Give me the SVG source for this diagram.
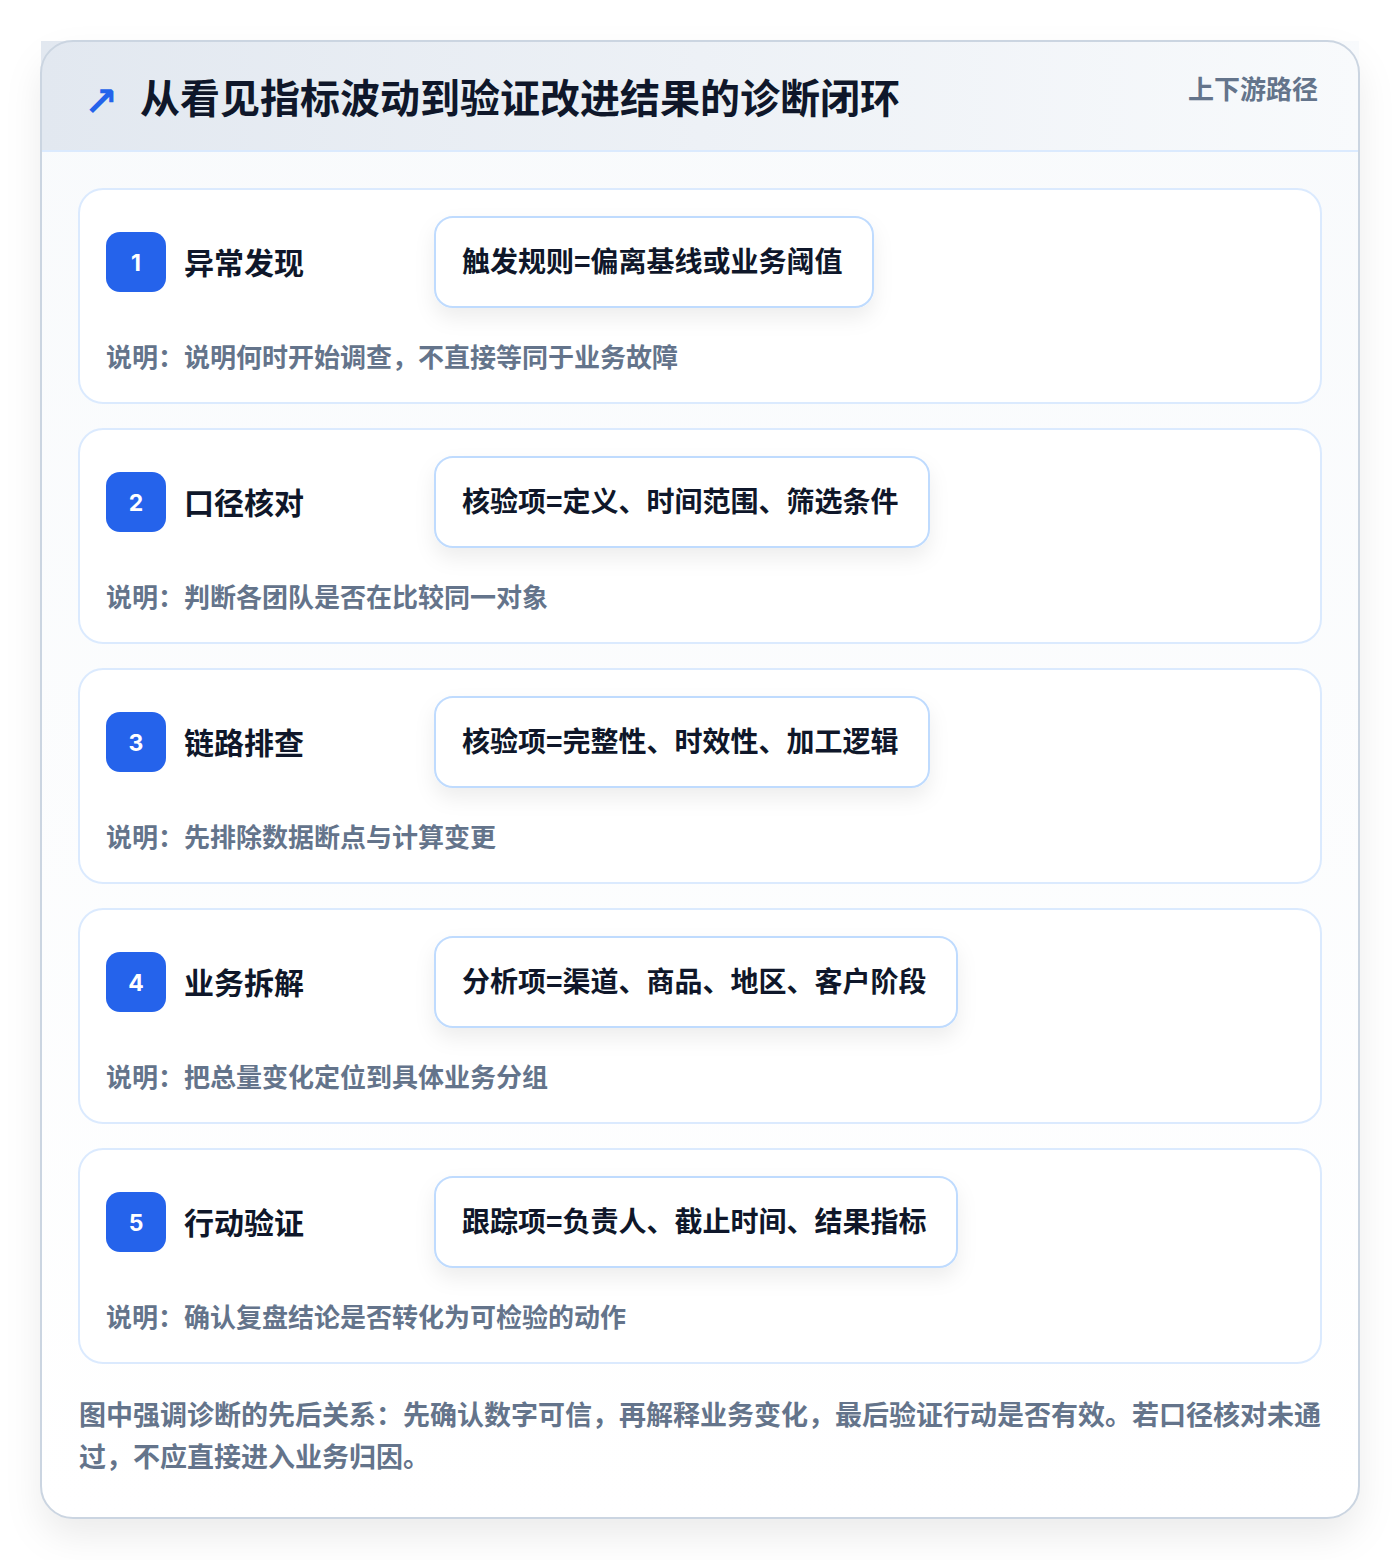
<svg xmlns="http://www.w3.org/2000/svg" width="1400" height="1560" viewBox="0 0 1400 1560">
<defs>
<linearGradient id="hdr" x1="0" y1="0" x2="1" y2="0">
<stop offset="0" stop-color="#e2e8f0"/>
<stop offset="1" stop-color="#f8fafc"/>
</linearGradient>
<linearGradient id="body" x1="0" y1="0" x2="0" y2="1">
<stop offset="0" stop-color="#f8fafc"/>
<stop offset="1" stop-color="#ffffff"/>
</linearGradient>
<filter id="outerShadow" x="-10%" y="-10%" width="120%" height="120%">
<feDropShadow dx="0" dy="18" stdDeviation="18" flood-color="#0f172a" flood-opacity="0.08"/>
</filter>
<filter id="pillShadow" x="-20%" y="-40%" width="140%" height="200%">
<feDropShadow dx="0" dy="10" stdDeviation="10" flood-color="#0f172a" flood-opacity="0.07"/>
</filter>
</defs>
<style>
text{font-family:"Noto Sans CJK SC","Noto Sans",sans-serif;font-weight:700}
.card{fill:#ffffff;stroke:#dbeafe;stroke-width:2}
.badge{fill:#2563eb}
.num{fill:#ffffff;font-size:23px;text-anchor:middle;font-family:Inter,"Noto Sans",sans-serif}
.ttl{fill:#0f172a;font-size:30px}
.pill{fill:#ffffff;stroke:#bfdbfe;stroke-width:2}
.ptxt{fill:#0f172a;font-size:28px}
.desc{fill:#64748b;font-size:26px}
.foot{fill:#64748b;font-size:27px}
</style>
<rect width="1400" height="1560" fill="#ffffff"/>
<g id="frame">
<rect x="41" y="41" width="1318" height="1477" rx="32" fill="url(#body)" filter="url(#outerShadow)"/>
<rect x="41" y="41" width="1318" height="110" fill="url(#hdr)"/>
<line x1="41" y1="151" x2="1359" y2="151" stroke="#dbeafe" stroke-width="2"/>
<rect x="41" y="41" width="1318" height="1477" rx="32" fill="none" stroke="#cbd5e1" stroke-width="2"/>
</g>
<g id="header">
<text x="84" y="116" fill="#2563eb" style="font-size:41px;font-family:'DejaVu Sans',sans-serif;font-weight:700">↗</text>
<text x="140" y="113" fill="#0f172a" style="font-size:40px">从看见指标波动到验证改进结果的诊断闭环</text>
<text x="1318" y="99" fill="#64748b" text-anchor="end" style="font-size:26px">上下游路径</text>
</g>
<g id="connectors"></g>
<g id="step1">
<rect class="card" x="79" y="189" width="1242" height="214" rx="24"/>
<rect class="badge" x="106" y="232" width="60" height="60" rx="14"/>
<text class="num" x="136" y="271">1</text>
<text class="ttl" x="184" y="274">异常发现</text>
<rect class="pill" x="435" y="217" width="438" height="90" rx="18" filter="url(#pillShadow)"/>
<text class="ptxt" x="462" y="272">触发规则=偏离基线或业务阈值</text>
<text class="desc" x="106" y="367">说明：说明何时开始调查，不直接等同于业务故障</text>
</g>
<g id="step2">
<rect class="card" x="79" y="429" width="1242" height="214" rx="24"/>
<rect class="badge" x="106" y="472" width="60" height="60" rx="14"/>
<text class="num" x="136" y="511">2</text>
<text class="ttl" x="184" y="514">口径核对</text>
<rect class="pill" x="435" y="457" width="494" height="90" rx="18" filter="url(#pillShadow)"/>
<text class="ptxt" x="462" y="512">核验项=定义、时间范围、筛选条件</text>
<text class="desc" x="106" y="607">说明：判断各团队是否在比较同一对象</text>
</g>
<g id="step3">
<rect class="card" x="79" y="669" width="1242" height="214" rx="24"/>
<rect class="badge" x="106" y="712" width="60" height="60" rx="14"/>
<text class="num" x="136" y="751">3</text>
<text class="ttl" x="184" y="754">链路排查</text>
<rect class="pill" x="435" y="697" width="494" height="90" rx="18" filter="url(#pillShadow)"/>
<text class="ptxt" x="462" y="752">核验项=完整性、时效性、加工逻辑</text>
<text class="desc" x="106" y="847">说明：先排除数据断点与计算变更</text>
</g>
<g id="step4">
<rect class="card" x="79" y="909" width="1242" height="214" rx="24"/>
<rect class="badge" x="106" y="952" width="60" height="60" rx="14"/>
<text class="num" x="136" y="991">4</text>
<text class="ttl" x="184" y="994">业务拆解</text>
<rect class="pill" x="435" y="937" width="522" height="90" rx="18" filter="url(#pillShadow)"/>
<text class="ptxt" x="462" y="992">分析项=渠道、商品、地区、客户阶段</text>
<text class="desc" x="106" y="1087">说明：把总量变化定位到具体业务分组</text>
</g>
<g id="step5">
<rect class="card" x="79" y="1149" width="1242" height="214" rx="24"/>
<rect class="badge" x="106" y="1192" width="60" height="60" rx="14"/>
<text class="num" x="136" y="1231">5</text>
<text class="ttl" x="184" y="1234">行动验证</text>
<rect class="pill" x="435" y="1177" width="522" height="90" rx="18" filter="url(#pillShadow)"/>
<text class="ptxt" x="462" y="1232">跟踪项=负责人、截止时间、结果指标</text>
<text class="desc" x="106" y="1327">说明：确认复盘结论是否转化为可检验的动作</text>
</g>
<g id="footer">
<text class="foot" x="79" y="1425">图中强调诊断的先后关系：先确认数字可信，再解释业务变化，最后验证行动是否有效。若口径核对未通</text>
<text class="foot" x="79" y="1467">过，不应直接进入业务归因。</text>
</g>
</svg>
